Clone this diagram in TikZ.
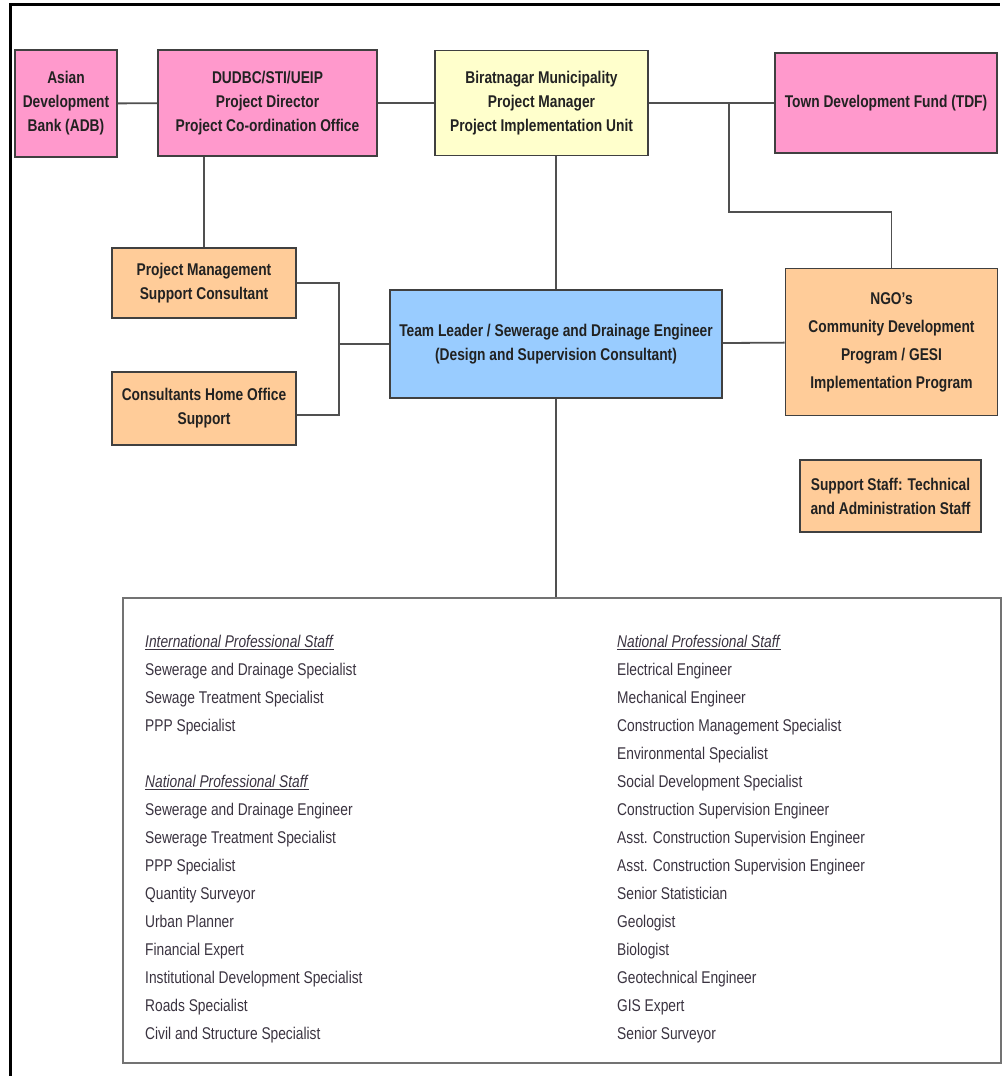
\documentclass[tikz,border=0pt]{standalone}
\usepackage{fontspec}
\setmainfont{Liberation Sans}[FakeStretch=0.81]
\usetikzlibrary{positioning, calc}
\definecolor{OPink}{HTML}{FF99CC}
\definecolor{OYellow}{HTML}{FFFFCC}
\definecolor{OOrange}{HTML}{FFCC99}
\definecolor{OBlue}{HTML}{99CCFF}
\definecolor{OEdge}{HTML}{404040}
\definecolor{OLine}{HTML}{505050}
\definecolor{OText}{HTML}{222222}
\definecolor{OList}{HTML}{3A3340}

\begin{document}
\begin{tikzpicture}[x=1pt, y=-1pt,
    unit/.style={draw=OEdge, line width=1.8pt, align=center, inner sep=0pt,
        text=OText, font=\fontsize{17}{24}\selectfont\bfseries},
    link/.style={draw=OLine, line width=1.8pt},
    stafflist/.style={anchor=north west, align=left, inner sep=0pt, text=OList,
        font=\fontsize{17}{28}\selectfont}]
    \useasboundingbox (0,0) rectangle (1005,1076);

    % --- Frame ---
    \draw[line width=3pt] (10,1076) -- (10,4.5) -- (1000,4.5);

    % --- Top row ---
    \node[unit, fill=OPink, minimum width=102pt, minimum height=107pt] (adb) at (66,103.5)
        {Asian\\Development\\Bank (ADB)};
    \node[unit, fill=OPink, minimum width=219pt, minimum height=106pt] (dudbc) at (267.5,103)
        {DUDBC/STI/UEIP\\Project Director\\Project Co-ordination Office};
    \node[unit, fill=OYellow, minimum width=213pt, minimum height=105pt] (bmc) at (541.5,103)
        {Biratnagar Municipality\\Project Manager\\Project Implementation Unit};
    \node[unit, fill=OPink, minimum width=222pt, minimum height=100pt] (tdf) at (886,103)
        {Town Development Fund (TDF)};

    % --- Consultants ---
    \node[unit, fill=OOrange, minimum width=184pt, minimum height=70pt] (pmsc) at (204,283)
        {Project Management\\Support Consultant};
    \node[unit, fill=OOrange, minimum width=184pt, minimum height=73pt] (chos) at (204,408.5)
        {Consultants Home Office\\Support};
    \node[unit, fill=OBlue, minimum width=332pt, minimum height=108pt] (team) at (556,344)
        {Team Leader / Sewerage and Drainage Engineer\\(Design and Supervision Consultant)};
    \node[unit, fill=OOrange, minimum width=212pt, minimum height=147pt,
        font=\fontsize{17}{28}\selectfont\bfseries] (ngo) at (891.5,342)
        {NGO's\\Community Development\\Program / GESI\\Implementation Program};
    \node[unit, fill=OOrange, minimum width=181pt, minimum height=72pt] (sstaff) at (890.5,496)
        {Support Staff: Technical\\and Administration Staff};

    % --- Staff box ---
    \node[draw=gray!110, line width=1.8pt, minimum width=878pt, minimum height=465pt,
        inner sep=0pt] (staff) at (562,830.5) {};
    \node[stafflist] (intl) at (145,635)
        {\underline{\textit{International Professional Staff}}\\
         Sewerage and Drainage Specialist\\
         Sewage Treatment Specialist\\
         PPP Specialist\\[28pt]
         \underline{\textit{National Professional Staff}}\\
         Sewerage and Drainage Engineer\\
         Sewerage Treatment Specialist\\
         PPP Specialist\\
         Quantity Surveyor\\
         Urban Planner\\
         Financial Expert\\
         Institutional Development Specialist\\
         Roads Specialist\\
         Civil and Structure Specialist};
    \node[stafflist] (natl) at (617,635)
        {\underline{\textit{National Professional Staff}}\\
         Electrical Engineer\\
         Mechanical Engineer\\
         Construction Management Specialist\\
         Environmental Specialist\\
         Social Development Specialist\\
         Construction Supervision Engineer\\
         Asst. Construction Supervision Engineer\\
         Asst. Construction Supervision Engineer\\
         Senior Statistician\\
         Geologist\\
         Biologist\\
         Geotechnical Engineer\\
         GIS Expert\\
         Senior Surveyor};

    % --- Connectors ---
    \draw[link] (adb) -- (dudbc);
    \draw[link] (dudbc) -- (bmc);
    \draw[link] (bmc) -- (tdf);
    \coordinate (fork) at (729,103);
    \draw[link] (fork) |- (ngo.north |- 0,212) -- (ngo.north);
    \draw[link] (bmc.south -| team.north) -- (team.north);
    \draw[link] (dudbc.south -| pmsc.north) -- (pmsc.north);
    \coordinate (brace) at (339,344);
    \draw[link] (pmsc.east) -| (brace) |- ($(chos.east)+(0,6.5)$);
    \draw[link] (brace) -- (team.west);
    \draw[link] (team) -- (ngo);
    \draw[link] (team.south) -- (staff.north -| team.south);
\end{tikzpicture}
\end{document}
